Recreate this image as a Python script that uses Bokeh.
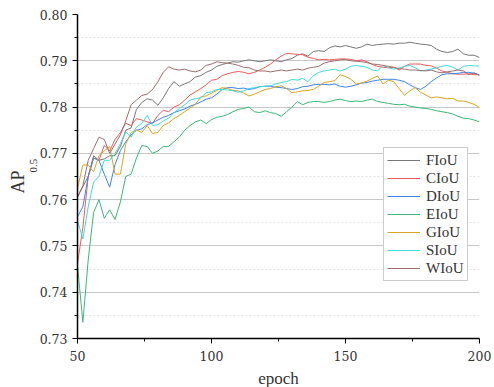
from math import pi
from bokeh.plotting import figure
from bokeh.models import Range1d, FixedTicker, Legend, LegendItem, Title, NumeralTickFormatter
from bokeh.embed import file_html
from bokeh.resources import INLINE

# ---------------- data ----------------
epochs = list(range(50, 201, 2))

FIoU = [.7606, .7628, .7650, .7695, .7685, .7688, .7695, .7695, .7715, .7750,
        .7755, .7795, .7810, .7818, .7815, .7804, .7820, .7840, .7855, .7845,
        .7850, .7855, .7865, .7868, .7875, .7880, .7888, .7892, .7895, .7898,
        .7897, .7900, .7902, .7900, .7898, .7900, .7902, .7900, .7898, .7902,
        .7905, .7912, .7915, .7910, .7920, .7922, .7920, .7928, .7932, .7930,
        .7933, .7930, .7927, .7930, .7936, .7933, .7935, .7936, .7937, .7936,
        .7938, .7938, .7940, .7938, .7936, .7935, .7933, .7925, .7920, .7918,
        .7920, .7925, .7915, .7912, .7912, .7907]

CIoU = [.7462, .7540, .7650, .7690, .7685, .7717, .7705, .7730, .7745, .7765,
        .7760, .7775, .7772, .7768, .7765, .7782, .7793, .7790, .7800, .7805,
        .7815, .7826, .7833, .7840, .7848, .7858, .7860, .7868, .7872, .7875,
        .7877, .7875, .7872, .7875, .7880, .7886, .7893, .7902, .7910, .7916,
        .7915, .7914, .7913, .7908, .7905, .7902, .7903, .7902, .7903, .7904,
        .7904, .7903, .7900, .7902, .7898, .7892, .7888, .7886, .7885, .7886,
        .7880, .7888, .7893, .7893, .7893, .7890, .7889, .7884, .7878, .7875,
        .7872, .7871, .7871, .7872, .7870, .7870]

DIoU = [.7563, .7585, .7650, .7690, .7685, .7655, .7627, .7676, .7706, .7725,
        .7740, .7750, .7753, .7762, .7766, .7772, .7778, .7782, .7788, .7792,
        .7796, .7802, .7806, .7811, .7817, .7820, .7828, .7838, .7842, .7842,
        .7840, .7841, .7838, .7840, .7844, .7845, .7845, .7843, .7842, .7840,
        .7838, .7840, .7844, .7845, .7848, .7849, .7849, .7848, .7850, .7845,
        .7843, .7845, .7848, .7852, .7853, .7856, .7858, .7860, .7860, .7860,
        .7858, .7855, .7848, .7842, .7838, .7845, .7855, .7863, .7870, .7872,
        .7872, .7873, .7875, .7875, .7873, .7870]

EIoU = [.7458, .7335, .7470, .7572, .7600, .7560, .7578, .7557, .7595, .7650,
        .7655, .7690, .7717, .7715, .7700, .7705, .7715, .7715, .7725, .7735,
        .7750, .7760, .7768, .7772, .7764, .7773, .7778, .7780, .7784, .7790,
        .7795, .7797, .7800, .7790, .7788, .7792, .7788, .7786, .7780, .7790,
        .7800, .7812, .7805, .7810, .7812, .7812, .7810, .7812, .7815, .7817,
        .7814, .7812, .7813, .7812, .7815, .7817, .7812, .7810, .7808, .7806,
        .7805, .7806, .7802, .7800, .7798, .7797, .7795, .7792, .7790, .7788,
        .7785, .7780, .7776, .7775, .7772, .7768]

GIoU = [.7624, .7675, .7675, .7660, .7695, .7705, .7715, .7655, .7655, .7720,
        .7745, .7750, .7745, .7760, .7743, .7745, .7760, .7766, .7775, .7782,
        .7790, .7798, .7806, .7822, .7824, .7830, .7836, .7842, .7840, .7836,
        .7835, .7830, .7824, .7828, .7833, .7838, .7840, .7844, .7846, .7840,
        .7831, .7833, .7835, .7836, .7838, .7845, .7853, .7855, .7857, .7870,
        .7866, .7860, .7850, .7852, .7856, .7862, .7867, .7850, .7858, .7855,
        .7840, .7825, .7835, .7842, .7832, .7826, .7820, .7822, .7820, .7818,
        .7819, .7813, .7813, .7810, .7806, .7799]

SIoU = [.7555, .7515, .7585, .7638, .7650, .7685, .7685, .7700, .7721, .7746,
        .7735, .7757, .7765, .7782, .7760, .7762, .7770, .7776, .7788, .7797,
        .7805, .7815, .7818, .7820, .7831, .7833, .7838, .7838, .7837, .7835,
        .7832, .7835, .7840, .7842, .7844, .7845, .7846, .7850, .7853, .7855,
        .7860, .7858, .7862, .7855, .7868, .7875, .7878, .7880, .7882, .7878,
        .7882, .7888, .7890, .7888, .7886, .7880, .7878, .7890, .7885, .7882,
        .7884, .7888, .7890, .7885, .7878, .7880, .7882, .7885, .7888, .7890,
        .7886, .7880, .7888, .7890, .7889, .7889]

WIoU = [.7606, .7630, .7685, .7710, .7735, .7730, .7700, .7720, .7740, .7770,
        .7805, .7815, .7825, .7828, .7838, .7855, .7875, .7887, .7882, .7880,
        .7882, .7878, .7876, .7880, .7890, .7893, .7898, .7896, .7895, .7893,
        .7890, .7886, .7885, .7880, .7878, .7878, .7876, .7878, .7880, .7878,
        .7880, .7882, .7880, .7884, .7886, .7888, .7895, .7898, .7900, .7902,
        .7903, .7900, .7899, .7898, .7896, .7893, .7892, .7890, .7888, .7886,
        .7883, .7882, .7880, .7880, .7879, .7878, .7880, .7876, .7874, .7876,
        .7878, .7880, .7878, .7870, .7874, .7868]

series_names = ["FIoU", "CIoU", "DIoU", "EIoU", "GIoU", "SIoU", "WIoU"]
series_values = [FIoU, CIoU, DIoU, EIoU, GIoU, SIoU, WIoU]
series_colors = ["#777777", "#f25a5a", "#3f84ee", "#3cb878", "#d9a521", "#3fdcdc", "#9e6e6e"]

x_ticks = [50, 100, 150, 200]
x_minor = [75, 125, 175]
y_ticks = [0.73, 0.74, 0.75, 0.76, 0.77, 0.78, 0.79, 0.80]
y_minor = [0.735, 0.745, 0.755, 0.765, 0.775, 0.785, 0.795]

# ---------------- figure ----------------
p = figure(frame_width=402, frame_height=324,
           min_border_left=77, min_border_right=15, min_border_top=14, min_border_bottom=49,
           x_range=Range1d(50, 200), y_range=Range1d(0.73, 0.80),
           output_backend="svg", toolbar_location=None)
p.outline_line_color = None
p.background_fill_color = "white"
p.border_fill_color = "white"

renderers = []
for name, vals, col in zip(series_names, series_values, series_colors):
    r = p.line(epochs, vals, line_color=col, line_width=1)
    renderers.append(r)

# axes
p.xaxis.ticker = FixedTicker(ticks=x_ticks, minor_ticks=x_minor)
p.yaxis.ticker = FixedTicker(ticks=y_ticks, minor_ticks=y_minor)
p.yaxis.formatter = NumeralTickFormatter(format="0.00")
for ax in (p.xaxis, p.yaxis):
    ax.axis_line_color = "black"
    ax.axis_line_width = 1.5
    ax.major_tick_line_color = "black"
    ax.minor_tick_line_color = "black"
    ax.major_tick_out = 5
    ax.major_tick_in = 0
    ax.minor_tick_out = 3
    ax.minor_tick_in = 0
    ax.major_label_text_font = "DejaVu Serif"
    ax.major_label_text_font_size = "12.5px"
    ax.major_label_text_color = "#333333"
p.xaxis.major_label_standoff = 7
p.yaxis.major_label_standoff = 5
p.xaxis.axis_label = "epoch"
p.xaxis.axis_label_text_font = "Liberation Serif"
p.xaxis.axis_label_text_font_size = "17px"
p.xaxis.axis_label_text_font_style = "normal"
p.xaxis.axis_label_text_color = "#333333"
p.xaxis.axis_label_standoff = 5

# grid
p.xgrid.visible = False
p.ygrid.ticker = FixedTicker(ticks=y_ticks, minor_ticks=y_minor)
p.ygrid.grid_line_color = "#c8c8c8"
p.ygrid.grid_line_width = 1
p.ygrid.minor_grid_line_color = "#e2e2e2"
p.ygrid.minor_grid_line_dash = "2 2"

# y axis label: AP with subscript 0.5, as two side titles (subscript nearer the axis)
sub_title = Title(text="0.5", align="left", offset=166, standoff=0,
                  text_font="Liberation Serif", text_font_size="11px",
                  text_font_style="normal", text_color="#333333", text_line_height=0.8)
ap_title = Title(text="AP", align="left", offset=145, standoff=0,
                 text_font="Liberation Serif", text_font_size="18px",
                 text_font_style="normal", text_color="#333333", text_line_height=1.0)
p.add_layout(sub_title, "left")
p.add_layout(ap_title, "left")

# legend
legend = Legend(items=[LegendItem(label=n, renderers=[r]) for n, r in zip(series_names, renderers)],
                location=(306, 57))
legend.label_text_font = "Liberation Serif"
legend.label_text_font_size = "15px"
legend.label_text_color = "#333333"
legend.glyph_width = 33
legend.glyph_height = 18
legend.label_height = 18
legend.label_standoff = 6
legend.spacing = 0
legend.padding = 3
legend.margin = 0
legend.border_line_color = "#999999"
legend.border_line_width = 1
legend.background_fill_alpha = 1
p.add_layout(legend)

open("out.html", "w").write(file_html(p, INLINE))
